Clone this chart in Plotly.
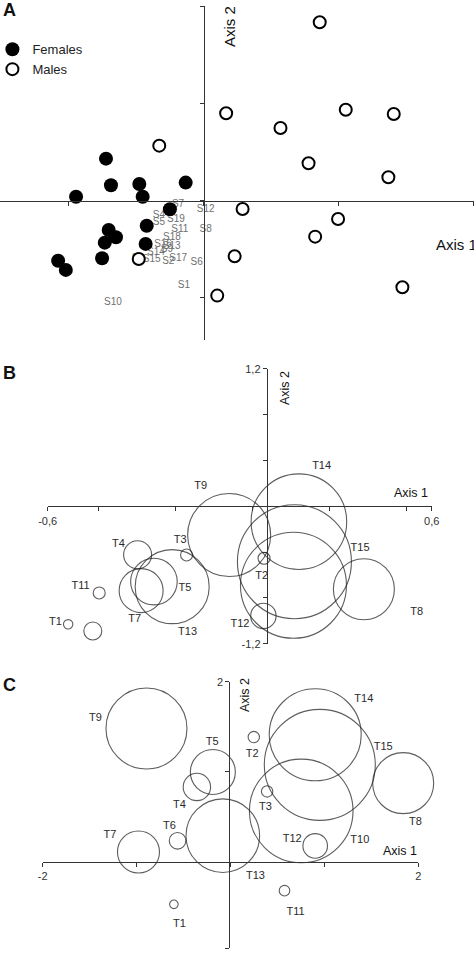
import plotly.graph_objects as go

# ---- panel A : individuals on the first two axes
fem_x = [-0.724, -0.687, -0.477, -0.452, -0.946, -0.133, -0.250, -0.422,
         -0.704, -0.650, -0.733, -0.430, -0.753, -1.079, -1.022]
fem_y = [0.433, 0.159, 0.172, 0.041, 0.041, 0.186, -0.089, -0.258,
         -0.302, -0.377, -0.433, -0.446, -0.594, -0.619, -0.714]
male_x = [0.861, 0.167, 1.054, 1.410, 0.570, -0.329, 0.778, 1.370,
          0.289, 0.997, 0.827, 0.230, -0.481, 1.474, 0.101]
male_y = [1.839, 0.901, 0.938, 0.894, 0.749, 0.567, 0.386, 0.241,
          -0.086, -0.189, -0.371, -0.573, -0.601, -0.893, -0.979]
# sample labels (grey text)
s_names = ["S1", "S2", "S3", "S4", "S5", "S6", "S7", "S8", "S9", "S10",
           "S11", "S12", "S13", "S14", "S15", "S16", "S17", "S18", "S19"]
s_x = [-0.146, -0.262, -0.487, -0.331, -0.331, -0.052, -0.190, 0.015, -0.272, -0.672,
       -0.176, 0.015, -0.237, -0.353, -0.385, -0.301, -0.188, -0.235, -0.205]
s_y = [-0.872, -0.629, -0.594, -0.158, -0.227, -0.639, -0.044, -0.295, -0.508, -1.047,
       -0.295, -0.086, -0.474, -0.539, -0.611, -0.457, -0.594, -0.381, -0.199]

# ---- panel B and C : taxa, bubble radius = weight
t_names = ["T1", "T2", "T3", "T4", "T5", "T6", "T7", "T8", "T9", "T10",
           "T11", "T12", "T13", "T14", "T15"]

b_x = [-0.536, 0.076, -0.166, -0.319, -0.268, -0.459, -0.308, 0.388, -0.033, 0.168,
       -0.439, 0.074, -0.211, 0.185, 0.171]
b_y = [-1.031, -0.454, -0.425, -0.423, -0.658, -1.089, -0.737, -0.725, -0.251, -0.690,
       -0.757, -0.958, -0.702, -0.134, -0.484]
b_w = [4.7, 6, 6, 14, 23.3, 9, 22, 30.5, 41.5, 53, 6, 12.7, 37, 47.8, 57]
b_lx = [-0.576, 0.069, -0.186, -0.379, -0.171, -0.444, -0.328, 0.553, -0.122, 0.223,
        -0.497, 0.001, -0.163, 0.256, 0.376]
b_ly = [-1.013, -0.609, -0.294, -0.329, -0.719, -1.270, -0.987, -0.927, 0.171, -1.206,
        -0.696, -1.028, -1.104, 0.352, -0.369]

c_x = [-0.603, 0.248, 0.390, -0.358, -0.188, -0.564, -0.980, 1.839, -0.895, 0.753,
       0.575, 0.902, -0.082, 0.902, 0.951]
c_y = [-0.466, 1.386, 0.785, 0.834, 1.000, 0.238, 0.114, 0.876, 1.481, 0.569,
       -0.315, 0.181, 0.295, 1.412, 1.079]
c_w = [4.3, 5.7, 5.7, 13.7, 22.5, 8.3, 21, 30.5, 40.5, 51.8, 5.3, 12.3, 36.8, 46, 55.5]
c_lx = [-0.543, 0.231, 0.373, -0.543, -0.195, -0.650, -1.285, 1.970, -1.438, 1.377,
        0.692, 0.657, 0.266, 1.420, 1.626]
c_ly = [-0.684, 1.201, 0.610, 0.635, 1.326, 0.402, 0.303, 0.443, 1.596, 0.239,
        -0.554, 0.255, -0.160, 1.807, 1.275]

FONT = "Liberation Sans, Arial, sans-serif"

fig = go.Figure()

# panel A
fig.add_trace(go.Scatter(x=s_x, y=s_y, text=s_names, mode="text", xaxis="x", yaxis="y",
                         textfont=dict(size=10, color="#707070"), showlegend=False,
                         cliponaxis=False))
fig.add_trace(go.Scatter(x=fem_x, y=fem_y, mode="markers", name="Females", xaxis="x", yaxis="y",
                         marker=dict(size=14, color="black", line=dict(width=0)),
                         cliponaxis=False))
fig.add_trace(go.Scatter(x=male_x, y=male_y, mode="markers", name="Males", xaxis="x", yaxis="y",
                         marker=dict(size=12, color="white", line=dict(width=2, color="black")),
                         cliponaxis=False))

# panel B and C
for xs, ys, ws, lxs, lys, xa, ya in [(b_x, b_y, b_w, b_lx, b_ly, "x2", "y2"),
                                     (c_x, c_y, c_w, c_lx, c_ly, "x3", "y3")]:
    fig.add_trace(go.Scatter(x=xs, y=ys, mode="markers", xaxis=xa, yaxis=ya, showlegend=False,
                             marker=dict(size=[2 * w for w in ws], color="rgba(0,0,0,0)",
                                         line=dict(width=1.1, color="#1a1a1a")),
                             cliponaxis=False))
    fig.add_trace(go.Scatter(x=lxs, y=lys, text=t_names, mode="text", xaxis=xa, yaxis=ya,
                             showlegend=False, textfont=dict(size=11, color="#2a2a2a"),
                             cliponaxis=False))

ax = dict(showgrid=False, zeroline=False, showline=True, linecolor="#333", linewidth=1,
          ticks="outside", ticklen=4, tickcolor="#333", anchor="free",
          tickfont=dict(size=11, color="#333", family=FONT))

fig.update_layout(
    width=474, height=953, margin=dict(l=0, r=0, t=0, b=0, autoexpand=False),
    paper_bgcolor="white", plot_bgcolor="rgba(0,0,0,0)",
    font=dict(family=FONT, color="#222"),
    showlegend=True,
    legend=dict(x=-0.016, y=0.964, xanchor="left", yanchor="top", bgcolor="rgba(0,0,0,0)",
                font=dict(size=13, color="#222"), tracegroupgap=0),
    # panel A axes
    xaxis=dict(ax, domain=[0, 1], range=[-1.51, 2.005], position=0.7894,
               tickvals=[-1, 0, 1, 2], showticklabels=False),
    yaxis=dict(ax, domain=[0.6432, 0.9937], range=[-1.437, 2.007], position=0.4297,
               tickvals=[-1, 0, 1, 2], showticklabels=False),
    # panel B axes
    xaxis2=dict(ax, domain=[0.1006, 0.9108], range=[-0.6, 0.6], position=0.4687,
                tickvals=[-0.6, -0.44, -0.2, 0.04, 0.28, 0.52, 0.6],
                ticktext=["-0,6", "", "", "", "", "", "0,6"]),
    yaxis2=dict(ax, domain=[0.3246, 0.6129], range=[-1.2, 1.2], position=0.5627,
                tickvals=[-1.2, -0.8, -0.4, 0, 0.4, 0.8, 1.2],
                ticktext=["-1,2", "", "", "", "", "", "1,2"]),
    # panel C axes
    xaxis3=dict(ax, domain=[0.0901, 0.8825], range=[-2, 2], position=0.0952,
                tickvals=[-2, -1, 0, 1, 2], ticktext=["-2", "", "", "", "2"]),
    yaxis3=dict(ax, domain=[0.0049, 0.2847], range=[-0.953, 2.0], position=0.4838,
                tickvals=[-0.953, 0, 1, 2], ticktext=["-2", "", "", "2"]),
)

def note(text, x, y, size=13, angle=0, bold=False, xanchor="center"):
    fig.add_annotation(text="<b>%s</b>" % text if bold else text, x=x / 474, y=1 - y / 953,
                       xref="paper", yref="paper", showarrow=False, textangle=angle,
                       xanchor=xanchor, yanchor="middle",
                       font=dict(size=size, color="#111", family=FONT))

note("A", 1, 10, size=18, bold=True, xanchor="left")
note("B", 1, 373, size=18, bold=True, xanchor="left")
note("C", 1, 685, size=18, bold=True, xanchor="left")
note("Axis 2", 230, 27, size=15, angle=-90)
note("Axis 1", 434, 245, size=15, xanchor="left")
note("Axis 2", 285, 388, size=12.5, angle=-90)
note("Axis 1", 411, 493, size=12.5)
note("Axis 2", 245, 695, size=12.5, angle=-90)
note("Axis 1", 400, 851, size=12.5)

# the page body has a default margin, drop it so the figure sits at the top-left corner
fig.write_html("out.html", config={"displayModeBar": False},
               post_script="document.body.style.margin='0';")
